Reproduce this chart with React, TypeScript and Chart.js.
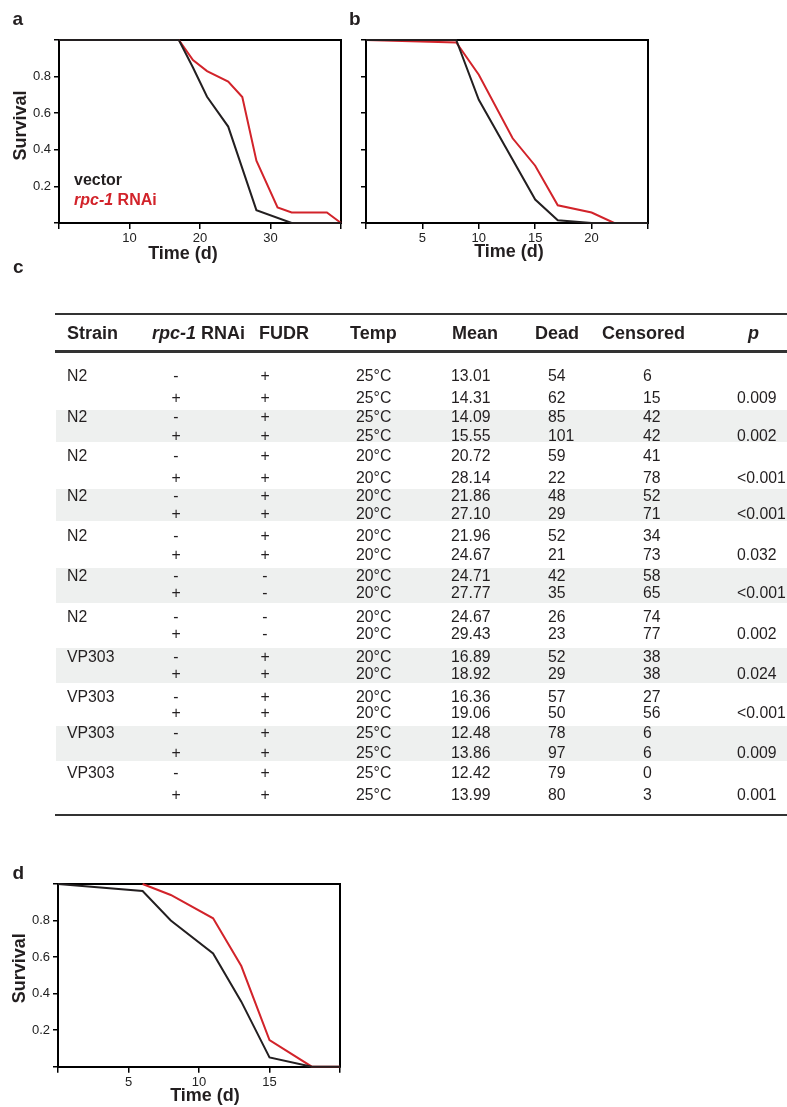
import React, { useEffect, useRef } from 'react';
import { Chart, registerables } from 'chart.js';

Chart.register(...registerables);

const FONT = "'Liberation Sans', Arial, Helvetica, sans-serif";
const INK = '#231f20';
const RED = '#d2232a';

// ---------- Survival data ----------
const SERIES_LABELS = ['vector', 'rpc-1 RNAi'];
const ITALIC_PART = 'rpc-1';

// panel a
const A_VECTOR_DAYS = [0, 17, 19, 21, 24, 28, 33, 40];
const A_VECTOR_SURV = [1, 1, 0.85, 0.69, 0.527, 0.07, 0, 0];
const A_RNAI_DAYS = [0, 17, 19, 21, 24, 26, 28, 31, 33, 38, 40];
const A_RNAI_SURV = [1, 1, 0.89, 0.83, 0.773, 0.688, 0.34, 0.085, 0.058, 0.058, 0];
const A_X_LABELS = [10, 20, 30];

// panel b
const B_VECTOR_DAYS = [0, 8, 10, 15, 17, 20, 25];
const B_VECTOR_SURV = [1, 1, 0.673, 0.128, 0.015, 0, 0];
const B_RNAI_DAYS = [0, 8, 10, 13, 15, 17, 20, 22, 25];
const B_RNAI_SURV = [1, 0.987, 0.81, 0.463, 0.313, 0.097, 0.057, 0, 0];
const B_X_LABELS = [5, 10, 15, 20];

// panel d
const D_VECTOR_DAYS = [0, 6, 8, 11, 13, 15, 18, 20];
const D_VECTOR_SURV = [1, 0.962, 0.8, 0.62, 0.356, 0.051, 0, 0];
const D_RNAI_DAYS = [6, 8, 11, 13, 15, 18, 20];
const D_RNAI_SURV = [1, 0.94, 0.812, 0.551, 0.146, 0, 0];
const D_X_LABELS = [5, 10, 15];

const Y_LABELS = [0.2, 0.4, 0.6, 0.8];
const X_TITLE = 'Time (d)';
const Y_TITLE = 'Survival';

// ---------- Table data ----------
const HEADERS = ['Strain', 'rpc-1 RNAi', 'FUDR', 'Temp', 'Mean', 'Dead', 'Censored', 'p'];
const STRAINS = ['N2', 'N2', 'N2', 'N2', 'N2', 'N2', 'N2', 'VP303', 'VP303', 'VP303', 'VP303'];
const RNAI = ['-', '+'];
const FUDR = ['+', '+', '+', '+', '+', '-', '-', '+', '+', '+', '+'];
const TEMPS = ['25°C', '25°C', '20°C', '20°C', '20°C', '20°C', '20°C', '20°C', '20°C', '25°C', '25°C'];
const MEANS = ['13.01', '14.31', '14.09', '15.55', '20.72', '28.14', '21.86', '27.10', '21.96', '24.67', '24.71', '27.77', '24.67', '29.43', '16.89', '18.92', '16.36', '19.06', '12.48', '13.86', '12.42', '13.99'];
const DEAD = ['54', '62', '85', '101', '59', '22', '48', '29', '52', '21', '42', '35', '26', '23', '52', '29', '57', '50', '78', '97', '79', '80'];
const CENSORED = ['6', '15', '42', '42', '41', '78', '52', '71', '34', '73', '58', '65', '74', '77', '38', '38', '27', '56', '6', '6', '0', '3'];
const P_VALUES = ['0.009', '0.002', '<0.001', '<0.001', '0.032', '<0.001', '0.002', '0.024', '<0.001', '0.009', '0.001'];

// ---------- Layout (positions only) ----------
const ROW_Y = [376, 398.3, 416.7, 436, 456, 478.3, 496, 514.3, 536, 555, 576, 593.3, 616.7, 634.3, 656.7, 674.3, 696.7, 713.3, 733.3, 753.3, 773.3, 795];
const BANDS = [[410, 441.7], [489.3, 521], [567.7, 602.7], [647.7, 682.7], [725.7, 761]];
const HEADER_X = [67, 152, 259, 350, 452, 535, 602, 748];
const COL = { strain: 67, rnai: 176, fudr: 265, temp: 356, mean: 451, dead: 548, cens: 643, p: 737 };

const zip = (xs: number[], ys: number[]) => xs.map((x, i) => ({ x, y: ys[i] }));
const near = (v: number, list: number[]) => list.some((l) => Math.abs(l - v) < 1e-6);

const decorPlugin = {
  id: 'decor',
  beforeDatasetsDraw(chart: any) {
    const { ctx, chartArea } = chart;
    const { left, top, right, bottom } = chartArea;
    ctx.save();
    ctx.strokeStyle = '#000';
    ctx.lineWidth = 2;
    ctx.beginPath();
    ctx.moveTo(left, top);
    ctx.lineTo(right, top);
    ctx.lineTo(right, bottom + 1);
    ctx.stroke();
    ctx.restore();
  },
  afterDraw(chart: any, _args: any, opts: any) {
    const { ctx, chartArea } = chart;
    const { left, top, right, bottom } = chartArea;
    ctx.save();
    ctx.fillStyle = INK;
    ctx.font = `bold 18px ${FONT}`;
    ctx.textAlign = 'center';
    ctx.textBaseline = 'middle';
    ctx.fillText(X_TITLE, (left + right) / 2 + opts.xDx, bottom + opts.xDy);
    if (opts.yTitle) {
      ctx.save();
      ctx.translate(left - opts.yDx, (top + bottom) / 2 + opts.yDy);
      ctx.rotate(-Math.PI / 2);
      ctx.fillText(Y_TITLE, 0, 0);
      ctx.restore();
    }
    if (opts.legend) {
      ctx.textAlign = 'left';
      ctx.textBaseline = 'alphabetic';
      const lx = left + 15;
      const ds = chart.data.datasets;
      ctx.font = `bold 16px ${FONT}`;
      ctx.fillStyle = ds[0].borderColor;
      ctx.fillText(ds[0].label, lx, bottom - 38);
      ctx.fillStyle = ds[1].borderColor;
      const lab: string = ds[1].label;
      const rest = lab.slice(ITALIC_PART.length);
      ctx.font = `italic bold 16px ${FONT}`;
      ctx.fillText(ITALIC_PART, lx, bottom - 18);
      const w = ctx.measureText(ITALIC_PART).width;
      ctx.font = `bold 16px ${FONT}`;
      ctx.fillText(rest, lx + w, bottom - 18);
    }
    ctx.restore();
  },
};

type PanelProps = {
  left: number; top: number; width: number; height: number;
  padTop: number; padRight: number; yW: number; xH: number;
  vec: { x: number; y: number }[]; rnai: { x: number; y: number }[];
  xMax: number; xStep: number; xLabels: number[]; yLabels: boolean;
  decor: any;
};

function SurvivalPanel(p: PanelProps) {
  const ref = useRef<HTMLCanvasElement>(null);
  useEffect(() => {
    if (!ref.current) return;
    const tickFont = { family: FONT, size: 13 };
    const grid = { display: true, drawOnChartArea: false, drawTicks: true, tickLength: 5, color: '#000', lineWidth: 1.5 };
    const chart = new Chart(ref.current, {
      type: 'line',
      data: {
        datasets: [
          { label: SERIES_LABELS[0], data: p.vec, borderColor: INK, backgroundColor: INK, borderWidth: 2, pointRadius: 0, tension: 0, clip: false as any, fill: false },
          { label: SERIES_LABELS[1], data: p.rnai, borderColor: RED, backgroundColor: RED, borderWidth: 2, pointRadius: 0, tension: 0, clip: false as any, fill: false },
        ],
      },
      options: {
        animation: false,
        responsive: false,
        devicePixelRatio: 1,
        layout: { padding: { top: p.padTop, right: p.padRight, left: 0, bottom: 0 } },
        plugins: { legend: { display: false }, tooltip: { enabled: false }, decor: p.decor } as any,
        scales: {
          x: {
            type: 'linear', min: 0, max: p.xMax,
            ticks: {
              stepSize: p.xStep, autoSkip: false, maxRotation: 0, padding: 2, color: '#222', font: tickFont,
              callback: (v: any) => (near(Number(v), p.xLabels) ? String(v) : ''),
            },
            grid: { ...grid, tickLength: 6 },
            border: { display: true, color: '#000', width: 2 },
            afterFit: (s: any) => { s.height = p.xH; },
          },
          y: {
            type: 'linear', min: 0, max: 1,
            ticks: {
              stepSize: 0.2, autoSkip: false, padding: 3, color: '#222', font: tickFont,
              callback: (v: any) => (p.yLabels && near(Number(v), Y_LABELS) ? Number(v).toFixed(1) : ''),
            },
            grid,
            border: { display: true, color: '#000', width: 2 },
            afterFit: (s: any) => { s.width = p.yW; },
          },
        } as any,
      },
      plugins: [decorPlugin],
    } as any);
    return () => chart.destroy();
  }, []);
  return (
    <canvas
      ref={ref}
      width={p.width}
      height={p.height}
      style={{ position: 'absolute', left: p.left, top: p.top, width: p.width, height: p.height }}
    />
  );
}

const txt = (s: string, x: number, y: number, extra: any = {}, key?: any) => (
  <div key={key} style={{ position: 'absolute', left: x, top: y - 10, lineHeight: '20px', whiteSpace: 'nowrap', ...extra }}>{s}</div>
);
const ctxt = (s: string, cx: number, y: number, key: any) => (
  <div key={key} style={{ position: 'absolute', left: cx - 10, width: 20, textAlign: 'center', top: y - 10, lineHeight: '20px' }}>{s}</div>
);

function Table() {
  const rows: any[] = [];
  STRAINS.forEach((strain, g) => {
    const r0 = g * 2;
    rows.push(txt(strain, COL.strain, ROW_Y[r0], {}, `s${g}`));
    for (let k = 0; k < 2; k++) {
      const r = r0 + k;
      rows.push(ctxt(RNAI[k], COL.rnai, ROW_Y[r], `r${r}`));
      rows.push(ctxt(FUDR[g], COL.fudr, ROW_Y[r], `f${r}`));
      rows.push(txt(TEMPS[g], COL.temp, ROW_Y[r], {}, `t${r}`));
      rows.push(txt(MEANS[r], COL.mean, ROW_Y[r], {}, `m${r}`));
      rows.push(txt(DEAD[r], COL.dead, ROW_Y[r], {}, `d${r}`));
      rows.push(txt(CENSORED[r], COL.cens, ROW_Y[r], {}, `c${r}`));
    }
    rows.push(txt(P_VALUES[g], COL.p, ROW_Y[r0 + 1], {}, `p${g}`));
  });
  const rule = (y: number, key: string) => (
    <div key={key} style={{ position: 'absolute', left: 55, width: 732, top: y - 1.25, height: 2.5, background: '#333' }} />
  );
  return (
    <div style={{ position: 'absolute', left: 0, top: 0, width: 787, height: 1107, fontFamily: FONT, color: INK, fontSize: 15.8 }}>
      {BANDS.map(([a, b], i) => (
        <div key={`b${i}`} style={{ position: 'absolute', left: 56, width: 731, top: a, height: b - a, background: '#eef0ef' }} />
      ))}
      {rule(314, 'top')}
      {rule(351.5, 'mid')}
      {rule(815, 'bot')}
      {HEADERS.map((h, i) => {
        const st: any = { fontWeight: 'bold', fontSize: 18 };
        if (h.startsWith(ITALIC_PART)) {
          return (
            <div key={`h${i}`} style={{ position: 'absolute', left: HEADER_X[i], top: 332.7 - 10, lineHeight: '20px', whiteSpace: 'nowrap', ...st }}>
              <i>{ITALIC_PART}</i>{h.slice(ITALIC_PART.length)}
            </div>
          );
        }
        if (h === 'p') return txt(h, HEADER_X[i], 332.7, { ...st, fontStyle: 'italic' }, `h${i}`);
        return txt(h, HEADER_X[i], 332.7, st, `h${i}`);
      })}
      {rows}
    </div>
  );
}

const letter = (s: string, x: number, y: number) => (
  <div key={s} style={{ position: 'absolute', left: x, top: y, fontFamily: FONT, fontWeight: 'bold', fontSize: 19, lineHeight: '19px', color: INK }}>{s}</div>
);

export default function App() {
  return (
    <div style={{ position: 'absolute', left: 0, top: 0, width: 787, height: 1107, background: '#fff', overflow: 'hidden' }}>
      <SurvivalPanel
        left={0} top={0} width={350} height={275} padTop={40} padRight={9} yW={59} xH={52}
        vec={zip(A_VECTOR_DAYS, A_VECTOR_SURV)} rnai={zip(A_RNAI_DAYS, A_RNAI_SURV)}
        xMax={40} xStep={10} xLabels={A_X_LABELS} yLabels={true}
        decor={{ xDx: -17, xDy: 31, yTitle: true, yDx: 37.5, yDy: -6, legend: true }}
      />
      <SurvivalPanel
        left={345} top={0} width={310} height={275} padTop={40} padRight={7} yW={21} xH={52}
        vec={zip(B_VECTOR_DAYS, B_VECTOR_SURV)} rnai={zip(B_RNAI_DAYS, B_RNAI_SURV)}
        xMax={25} xStep={5} xLabels={B_X_LABELS} yLabels={false}
        decor={{ xDx: 2, xDy: 29.5, yTitle: false, yDx: 0, yDy: 0, legend: false }}
      />
      <SurvivalPanel
        left={0} top={860} width={350} height={247} padTop={24} padRight={10} yW={58} xH={40.3}
        vec={zip(D_VECTOR_DAYS, D_VECTOR_SURV)} rnai={zip(D_RNAI_DAYS, D_RNAI_SURV)}
        xMax={20} xStep={5} xLabels={D_X_LABELS} yLabels={true}
        decor={{ xDx: 6, xDy: 29, yTitle: true, yDx: 38, yDy: -7, legend: false }}
      />
      <Table />
      {letter('a', 12.5, 9)}
      {letter('b', 349, 9)}
      {letter('c', 13, 257)}
      {letter('d', 12.5, 863)}
    </div>
  );
}
